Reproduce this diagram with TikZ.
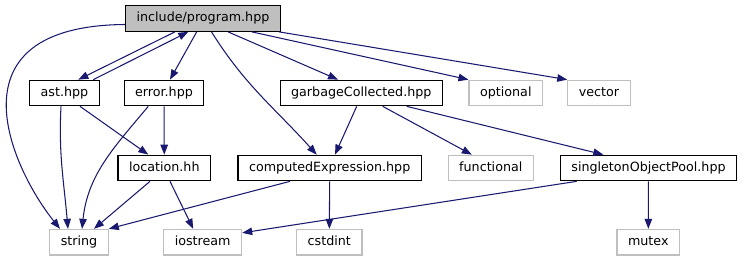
\documentclass[tikz,border=0pt]{standalone}
\usepackage{fontspec}
\setmainfont{DejaVu Sans}
\usepackage[]{xcolor}
\usepackage{tikz}
\usetikzlibrary{arrows.meta}
\definecolor{incblue}{HTML}{191970}
\definecolor{sysgray}{HTML}{BFBFBF}
\tikzset{
		file/.style={draw=black, fill=white, line width=1.2pt, minimum height=25.5pt,
			inner xsep=11pt, inner ysep=0pt, text height=9.3pt, text depth=2.7pt,
			font=\fontsize{12.7}{14}\selectfont},
		root file/.style={file, fill=sysgray},
		system file/.style={file, draw=sysgray},
		include/.style={->, color=incblue, line width=1.05pt}
	}

\begin{document}
\begin{tikzpicture}[x=1pt, y=-1pt, >={Triangle[length=10pt,width=7.5pt]}]
		\useasboundingbox (0,0) rectangle (744,261);

		% headers of the project
		\node[root file]   (prog)  at (203,18.5)   {include/program.hpp};
		\node[file]        (ast)   at (64.5,93)    {ast.hpp};
		\node[file]        (err)   at (164,93)     {error.hpp};
		\node[file]        (gc)    at (361.3,93)   {garbageCollected.hpp};
		\node[file]        (loc)   at (164.3,168)  {location.hh};
		\node[file]        (cexpr) at (329.7,168)  {computedExpression.hpp};
		\node[file]        (pool)  at (648.5,168)  {singletonObjectPool.hpp};

		% standard headers
		\node[system file] (opt)   at (505.8,93)   {optional};
		\node[system file] (vec)   at (599,93)     {vector};
		\node[system file] (func)  at (490.8,168)  {functional};
		\node[system file] (str)   at (79,242.2)   {string};
		\node[system file] (ios)   at (202.7,242.2){iostream};
		\node[system file] (cstd)  at (329.3,242.2){cstdint};
		\node[system file] (mtx)   at (648.3,242.2){mutex};

		% includes of program.hpp
		\draw[include] ([yshift=-6pt]prog.west) .. controls (-55,26) and (12,169) .. ([xshift=-19pt]str.north);
		\path[include] ([xshift=-28pt]prog.south)   edge ([xshift=13.8pt]ast.north);
		\path[include] ([xshift=28.8pt]ast.north)   edge ([xshift=-14.7pt]prog.south);
		\path[include] ([xshift=-6.3pt]prog.south)  edge ([xshift=6pt]err.north);
		\path[include] ([xshift=8.5pt]prog.south)   edge [out=-58, in=132] ([xshift=-13pt]cexpr.north);
		\path[include] ([xshift=25pt]prog.south)    edge ([xshift=-23.3pt]gc.north);
		\path[include] ([xshift=48.7pt]prog.south)  edge (opt.north west);
		\path[include] ([xshift=-2pt]prog.south east) edge (vec.north west);

		% includes of the other headers
		\path[include] ([xshift=-3.5pt]ast.south)   edge [out=-93, in=95] ([xshift=-11pt]str.north);
		\path[include] ([xshift=15.5pt]ast.south)   edge ([xshift=-16pt]loc.north);
		\path[include] ([xshift=-15.7pt]err.south)  edge [out=-130, in=84] ([xshift=3pt]str.north);
		\path[include] (err) edge (loc);
		\path[include] ([xshift=-14.3pt]loc.south)  edge ([xshift=15pt]str.north);
		\path[include] ([xshift=5.7pt]loc.south)    edge ([xshift=-9.5pt]ios.north);
		\path[include] ([xshift=-39.7pt]cexpr.south) edge (str.north east);
		\path[include] (cexpr) edge (cstd);
		\path[include] ([xshift=-4.6pt]gc.south)    edge ([xshift=5.3pt]cexpr.north);
		\path[include] ([xshift=21.4pt]gc.south)    edge ([xshift=-19pt]func.north);
		\path[include] ([xshift=45.4pt]gc.south)    edge ([xshift=-45.2pt]pool.north);
		\path[include] ([xshift=-71.8pt]pool.south) edge ([yshift=-4pt]ios.north east);
		\path[include] (pool) edge (mtx);
	\end{tikzpicture}
\end{document}
